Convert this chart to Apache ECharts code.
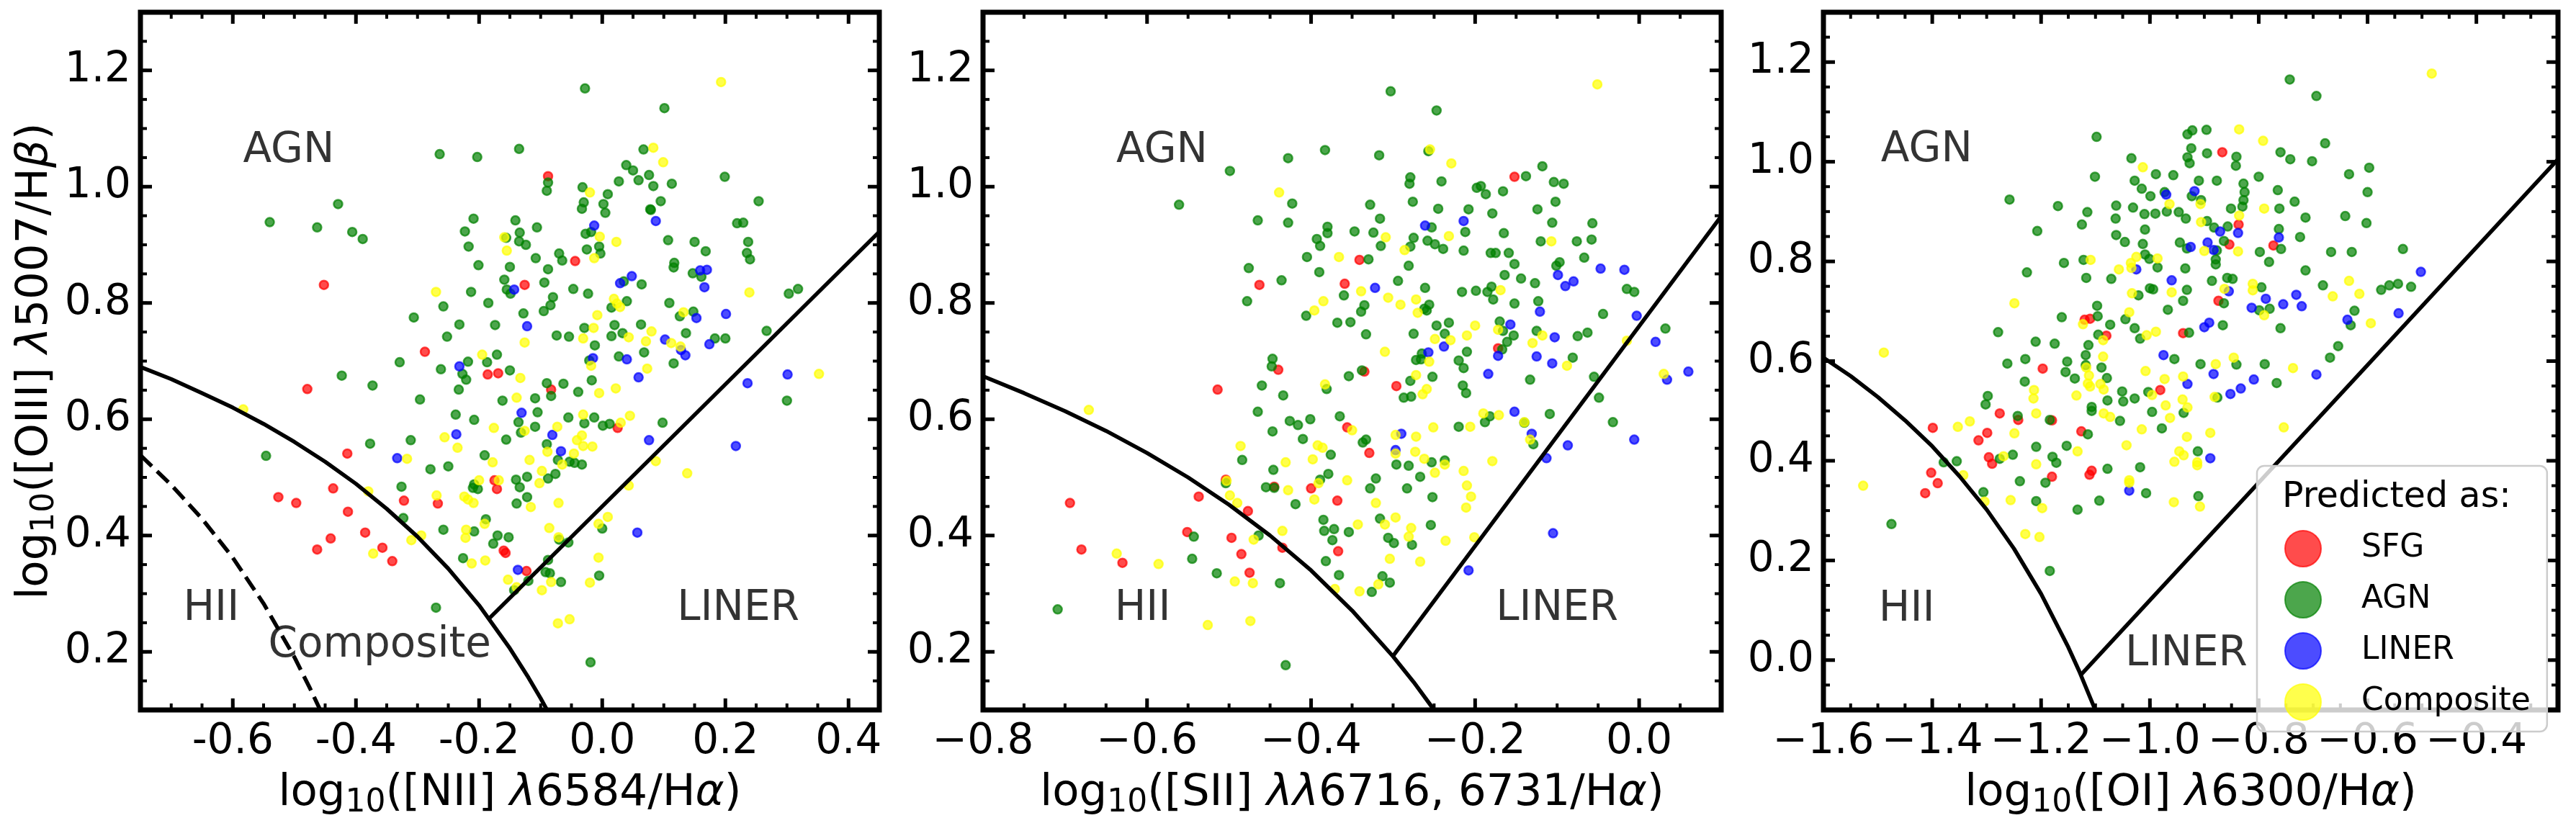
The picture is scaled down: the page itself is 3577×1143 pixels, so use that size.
<!DOCTYPE html>
<html><head><meta charset="utf-8">
<script src="https://cdn.jsdelivr.net/npm/echarts@6/dist/echarts.min.js"></script>
<style>html,body{margin:0;padding:0;background:#fff}#c{width:3577px;height:1143px}</style>
</head><body><div id="c"></div>
<script>
// ---------------- DATA ----------------
const classes = ['SFG', 'AGN', 'LINER', 'Composite'];

// Panel 1: log10([NII]/Ha) vs log10([OIII]/Hb)
const niiSFG = [[-0.088,1.018],[-0.044,0.872],[-0.126,0.831],[-0.288,0.716],[-0.186,0.677],[-0.169,0.679],[-0.083,0.651],
[0.025,0.585],[-0.175,0.495],[-0.171,0.480],[-0.322,0.460],[-0.267,0.455],[-0.160,0.374],[-0.157,0.370],[-0.123,0.339],[-0.341,0.356],
[-0.452,0.831],[-0.479,0.652],[-0.414,0.541],[-0.526,0.466],[-0.497,0.456],[-0.437,0.481],[-0.413,0.441],[-0.441,0.395],[-0.463,0.376],[-0.385,0.405],[-0.357,0.379]];
const niiAGN = [[-0.028,1.169],[0.101,1.135],[-0.264,1.056],[-0.203,1.051],[-0.135,1.065],[0.067,1.064],[0.039,1.037],[0.050,1.028],[0.076,1.020],[0.059,1.011],[0.083,1.001],[0.113,1.005],[0.027,1.009],[0.199,1.017],[-0.088,1.007],[-0.090,0.993],[-0.032,0.999],[0.009,0.987],[0.095,0.975],[0.254,0.975],[-0.030,0.973],[-0.033,0.962],[0.002,0.970],[0.005,0.955],[0.078,0.961],[0.079,0.960],[-0.209,0.945],[-0.141,0.942],[-0.106,0.930],[-0.223,0.923],[-0.134,0.921],[-0.156,0.912],[-0.135,0.906],[-0.124,0.900],[-0.217,0.897],[-0.027,0.919],[-0.018,0.922],[0.219,0.937],[0.229,0.938],[0.107,0.908],[0.150,0.905],[0.237,0.905],[-0.025,0.892],[-0.005,0.897],[-0.003,0.885],[0.168,0.889],[0.235,0.886],[0.240,0.875],[-0.070,0.885],[-0.065,0.873],[-0.108,0.877],[-0.201,0.865],[-0.150,0.862],[-0.088,0.858],[0.117,0.869],[0.116,0.861],[0.147,0.851],[0.161,0.845],[-0.159,0.840],[-0.094,0.835],[-0.155,0.823],[-0.149,0.816],[-0.047,0.824],[-0.023,0.816],[-0.213,0.819],[0.064,0.832],[0.035,0.837],[-0.080,0.810],[-0.084,0.796],[-0.095,0.786],[-0.185,0.800],[-0.258,0.794],[-0.306,0.775],[-0.128,0.782],[0.109,0.800],[0.040,0.803],[0.015,0.792],[0.303,0.816],[0.126,0.777],[0.148,0.785],[-0.232,0.763],[-0.174,0.762],[-0.252,0.742],[-0.029,0.757],[0.020,0.762],[0.063,0.763],[-0.074,0.744],[-0.054,0.742],[0.015,0.743],[0.033,0.748],[-0.012,0.727],[0.136,0.748],[0.183,0.739],[0.200,0.739],[0.267,0.752],[-0.329,0.698],[-0.262,0.686],[-0.218,0.699],[-0.187,0.698],[-0.171,0.711],[-0.150,0.684],[-0.227,0.678],[-0.221,0.668],[-0.233,0.651],[-0.296,0.634],[-0.090,0.662],[-0.063,0.661],[-0.017,0.667],[-0.039,0.647],[-0.083,0.640],[0.027,0.708],[0.068,0.715],[0.116,0.696],[-0.021,0.701],
[-0.162,0.632],[-0.109,0.636],[0.300,0.632],[-0.238,0.608],[-0.208,0.599],[-0.105,0.612],[-0.136,0.595],[-0.109,0.587],[-0.132,0.577],[-0.156,0.565],[-0.311,0.564],[-0.055,0.603],[-0.013,0.603],[-0.029,0.593],[0.001,0.589],[0.012,0.592],[0.098,0.594],[-0.090,0.557],[-0.191,0.538],[-0.250,0.519],[-0.279,0.514],[-0.072,0.530],[-0.053,0.527],[-0.045,0.525],[-0.033,0.522],[-0.076,0.506],[-0.088,0.498],[-0.122,0.501],[-0.140,0.496],[-0.134,0.483],[-0.122,0.466],[-0.139,0.455],[-0.326,0.484],[-0.208,0.488],[-0.202,0.480],[-0.210,0.482],[-0.323,0.430],[-0.189,0.428],[-0.258,0.410],[-0.208,0.407],[-0.170,0.400],[-0.152,0.397],[-0.177,0.386],[-0.070,0.393],[-0.055,0.388],[0.000,0.412],[-0.226,0.361],[-0.088,0.358],[-0.092,0.337],[-0.085,0.335],[-0.067,0.320],[-0.120,0.322],[-0.143,0.306],[-0.005,0.331],[-0.270,0.276],[-0.019,0.182],
[-0.540,0.939],[-0.463,0.930],[-0.429,0.970],[-0.406,0.922],[-0.389,0.910],[-0.423,0.675],[-0.373,0.658],[-0.546,0.537],[-0.377,0.558],[0.318,0.824]];
const niiLINER = [[-0.013,0.933],[0.087,0.941],[0.048,0.846],[0.029,0.834],[-0.143,0.823],[0.159,0.856],[0.170,0.857],[0.166,0.827],[0.201,0.781],[0.153,0.774],[-0.122,0.760],[0.102,0.737],[0.128,0.719],[0.135,0.710],[0.174,0.729],[0.040,0.703],[-0.015,0.705],[-0.232,0.691],[0.059,0.672],[0.236,0.662],[0.301,0.677],
[-0.131,0.611],[-0.237,0.574],[-0.081,0.573],[-0.067,0.545],[-0.333,0.533],[0.076,0.564],[0.217,0.554],[0.057,0.405],[-0.137,0.341]];
const niiComp = [[0.193,1.180],[0.083,1.067],[0.099,1.042],[-0.020,0.990],[-0.159,0.913],[-0.155,0.890],[-0.004,0.914],[0.023,0.905],[-0.013,0.877],[-0.270,0.819],[0.019,0.807],[0.024,0.799],[0.029,0.793],[-0.008,0.779],[-0.014,0.757],[-0.031,0.739],[0.043,0.741],[0.080,0.751],[0.071,0.734],[0.132,0.784],[0.112,0.731],[0.127,0.725],[-0.126,0.732],[-0.195,0.711],[-0.133,0.671],[-0.018,0.692],[0.073,0.687],[-0.005,0.645],[0.022,0.653],[0.239,0.818],[-0.139,0.637],
[-0.176,0.585],[-0.256,0.569],[-0.235,0.551],[-0.126,0.580],[-0.073,0.587],[-0.031,0.608],[0.045,0.606],[0.030,0.594],[-0.033,0.572],[-0.041,0.564],[-0.031,0.554],[-0.016,0.553],[-0.046,0.541],[-0.089,0.544],[-0.118,0.530],[-0.178,0.526],[-0.317,0.532],[-0.065,0.522],[-0.098,0.511],[-0.102,0.490],[-0.200,0.495],[-0.168,0.495],[-0.269,0.469],[-0.224,0.467],[-0.218,0.462],[-0.209,0.456],[-0.071,0.456],[-0.116,0.449],[0.087,0.528],[0.138,0.507],[0.043,0.486],[0.009,0.432],[-0.006,0.420],[-0.086,0.413],[-0.221,0.410],[-0.222,0.396],[-0.191,0.420],[-0.071,0.397],[-0.294,0.400],[-0.310,0.392],[-0.212,0.352],[-0.190,0.357],[-0.006,0.362],[-0.153,0.324],[-0.083,0.320],[-0.098,0.306],[-0.020,0.319],[-0.139,0.311],[-0.072,0.249],[-0.053,0.256],
[-0.583,0.617],[-0.380,0.476],[-0.372,0.369],[0.352,0.678]];

// Panel 2: log10([SII]/Ha)
const siiSFG = [[-0.152,1.017],[-0.341,0.874],[-0.463,0.831],[-0.359,0.833],[-0.172,0.722],[-0.440,0.685],[-0.335,0.682],[-0.514,0.651],[-0.296,0.657],
[-0.356,0.586],[-0.329,0.542],[-0.537,0.467],[-0.477,0.442],[-0.445,0.484],[-0.400,0.481],[-0.368,0.460],[-0.504,0.496],[-0.551,0.406],[-0.497,0.396],[-0.485,0.368],[-0.435,0.379],[-0.367,0.373],[-0.475,0.336],
[-0.694,0.456],[-0.680,0.376],[-0.630,0.353]];
const siiAGN = [[-0.303,1.164],[-0.247,1.131],[-0.383,1.063],[-0.428,1.049],[-0.499,1.027],[-0.317,1.054],[-0.257,1.061],[-0.118,1.035],[-0.138,1.018],[-0.279,1.016],[-0.280,1.005],[-0.241,1.009],[-0.198,0.998],[-0.193,1.001],[-0.187,0.987],[-0.166,0.992],[-0.104,1.008],[-0.092,1.005],[-0.561,0.969],[-0.423,0.971],[-0.328,0.969],[-0.276,0.974],[-0.245,0.962],[-0.208,0.961],[-0.179,0.954],[-0.124,0.961],[-0.102,0.974],[-0.465,0.942],[-0.428,0.938],[-0.316,0.945],[-0.106,0.938],[-0.057,0.937],[-0.380,0.931],[-0.380,0.920],[-0.347,0.923],[-0.324,0.921],[-0.253,0.930],[-0.212,0.922],[-0.165,0.920],[-0.393,0.910],[-0.389,0.898],[-0.315,0.898],[-0.275,0.912],[-0.279,0.897],[-0.258,0.907],[-0.249,0.901],[-0.239,0.893],[-0.214,0.890],[-0.181,0.886],[-0.175,0.886],[-0.159,0.886],[-0.120,0.906],[-0.076,0.906],[-0.058,0.909],[-0.405,0.879],[-0.330,0.875],[-0.281,0.864],[-0.152,0.867],[-0.097,0.870],[-0.101,0.864],[-0.067,0.878],[-0.476,0.860],[-0.390,0.853],[-0.164,0.848],[-0.144,0.842],[-0.127,0.834],[-0.436,0.839],[-0.294,0.838],[-0.261,0.826],[-0.216,0.819],[-0.199,0.821],[-0.185,0.819],[-0.180,0.828],[-0.178,0.806],[-0.123,0.803],[-0.152,0.799],[-0.015,0.824],[-0.006,0.819],[-0.478,0.803],[-0.360,0.813],[-0.335,0.796],[-0.339,0.785],[-0.406,0.778],[-0.262,0.790],[-0.256,0.797],[-0.259,0.787],[-0.368,0.766],[-0.352,0.767],[-0.247,0.761],[-0.232,0.766],[-0.170,0.768],[-0.166,0.752],[-0.153,0.744],[-0.161,0.733],[-0.125,0.752],[-0.075,0.743],[-0.063,0.749],[-0.044,0.781],[0.032,0.756],[-0.333,0.746],[-0.275,0.747],[-0.237,0.747],[-0.210,0.716],[-0.220,0.701],[-0.214,0.688],[-0.167,0.720],[-0.447,0.704],[-0.448,0.691],[-0.272,0.702],[-0.265,0.713],[-0.266,0.703],[-0.338,0.684],[-0.354,0.674],[-0.252,0.673],[-0.279,0.666],[-0.133,0.668],[-0.081,0.706],[-0.055,0.673],[-0.460,0.658],[-0.381,0.652],[-0.215,0.658],[-0.211,0.645],[-0.434,0.641],[-0.278,0.639],[-0.287,0.637],[-0.049,0.637],
[-0.465,0.613],[-0.426,0.597],[-0.416,0.590],[-0.401,0.600],[-0.365,0.605],[-0.447,0.579],[-0.410,0.566],[-0.337,0.560],[-0.333,0.565],[-0.376,0.539],[-0.484,0.530],[-0.446,0.513],[-0.379,0.506],[-0.389,0.496],[-0.504,0.490],[-0.455,0.483],[-0.445,0.482],[-0.419,0.454],[-0.321,0.498],[-0.328,0.481],[-0.296,0.522],[-0.281,0.520],[-0.267,0.501],[-0.253,0.526],[-0.237,0.529],[-0.283,0.481],[-0.252,0.466],[-0.220,0.587],[-0.188,0.595],[-0.182,0.605],[-0.109,0.609],[-0.140,0.594],[-0.129,0.557],[-0.032,0.595],[-0.385,0.427],[-0.384,0.408],[-0.372,0.411],[-0.354,0.406],[-0.374,0.392],[-0.316,0.429],[-0.306,0.396],[-0.299,0.387],[-0.277,0.384],[-0.254,0.418],[-0.543,0.398],[-0.464,0.400],[-0.545,0.360],[-0.515,0.335],[-0.438,0.318],[-0.382,0.356],[-0.366,0.332],[-0.313,0.330],[-0.304,0.319],[-0.326,0.303],[-0.431,0.177],
[-0.709,0.273]];
const siiLINER = [[-0.261,0.933],[-0.214,0.941],[-0.047,0.859],[-0.018,0.857],[-0.099,0.848],[-0.090,0.829],[-0.080,0.837],[-0.322,0.826],[-0.121,0.785],[-0.003,0.778],[-0.157,0.763],[-0.103,0.741],[0.020,0.733],[-0.238,0.725],[-0.257,0.715],[-0.172,0.709],[-0.125,0.708],[-0.106,0.696],[-0.184,0.678],[0.060,0.682],[0.034,0.668],
[-0.152,0.613],[-0.290,0.575],[-0.131,0.575],[-0.297,0.547],[-0.087,0.555],[-0.113,0.533],[-0.006,0.565],[-0.105,0.404],[-0.208,0.340]];
const siiComp = [[-0.051,1.176],[-0.255,1.064],[-0.229,1.040],[-0.439,0.990],[-0.309,0.913],[-0.232,0.915],[-0.107,0.906],[-0.286,0.891],[-0.366,0.879],[-0.169,0.822],[-0.339,0.820],[-0.385,0.803],[-0.396,0.787],[-0.306,0.809],[-0.291,0.797],[-0.272,0.806],[-0.270,0.783],[-0.200,0.761],[-0.172,0.754],[-0.210,0.744],[-0.118,0.744],[-0.130,0.731],[-0.249,0.738],[-0.230,0.736],[-0.310,0.716],[-0.256,0.699],[-0.088,0.692],[-0.015,0.735],[-0.272,0.676],[-0.383,0.660],[-0.259,0.652],[-0.264,0.643],[0.030,0.678],
[-0.190,0.610],[-0.171,0.607],[-0.206,0.587],[-0.251,0.586],[-0.140,0.595],[-0.133,0.565],[-0.350,0.581],[-0.297,0.573],[-0.272,0.570],[-0.486,0.554],[-0.392,0.555],[-0.386,0.551],[-0.297,0.541],[-0.273,0.544],[-0.262,0.532],[-0.431,0.526],[-0.398,0.531],[-0.237,0.522],[-0.249,0.508],[-0.214,0.511],[-0.179,0.528],[-0.210,0.486],[-0.205,0.467],[-0.211,0.448],[-0.356,0.495],[-0.391,0.490],[-0.428,0.478],[-0.396,0.462],[-0.321,0.456],[-0.503,0.494],[-0.499,0.469],[-0.490,0.456],[-0.343,0.419],[-0.297,0.431],[-0.310,0.419],[-0.278,0.413],[-0.281,0.398],[-0.236,0.391],[-0.201,0.397],[-0.435,0.408],[-0.470,0.393],[-0.304,0.360],[-0.267,0.355],[-0.493,0.321],[-0.471,0.318],[-0.318,0.316],[-0.341,0.304],[-0.371,0.308],[-0.586,0.351],[-0.526,0.246],[-0.474,0.253],
[-0.671,0.616],[-0.637,0.369]];

// Panel 3: log10([OI]/Ha)
const oiSFG = [[-0.867,1.019],[-0.837,0.874],[-0.854,0.834],[-0.773,0.832],[-0.874,0.721],[-1.120,0.683],[-1.110,0.685],[-1.080,0.651],[-0.939,0.656],
[-1.197,0.585],[-0.981,0.542],[-1.276,0.495],[-1.242,0.482],[-1.180,0.481],[-1.299,0.456],[-1.315,0.441],[-1.126,0.459],[-1.296,0.407],[-1.290,0.394],[-1.107,0.380],[-1.111,0.372],[-1.180,0.368],
[-1.399,0.466],[-1.402,0.376],[-1.390,0.355],[-1.413,0.335]];
const oiAGN = [[-0.743,1.165],[-0.694,1.132],[-1.098,1.050],[-0.922,1.063],[-0.931,1.055],[-0.896,1.064],[-0.924,1.027],[-0.895,1.017],[-0.931,1.009],[-0.927,0.997],[-0.841,1.010],[-0.842,0.992],[-1.034,1.007],[-0.760,1.019],[-0.742,1.005],[-0.702,1.001],[-0.678,1.037],[-1.101,0.970],[-1.028,0.962],[-0.989,0.975],[-0.957,0.973],[-0.910,0.962],[-0.877,0.962],[-0.800,0.970],[-0.828,0.956],[-0.826,0.939],[-0.828,0.923],[-0.830,0.910],[-0.634,0.975],[-0.597,0.988],[-0.600,0.939],[-0.765,0.943],[-1.015,0.946],[-0.999,0.931],[-0.973,0.939],[-0.923,0.931],[-0.906,0.923],[-1.258,0.924],[-1.169,0.911],[-1.115,0.899],[-1.062,0.912],[-1.031,0.908],[-1.010,0.895],[-0.990,0.896],[-0.969,0.900],[-0.947,0.899],[-0.934,0.886],[-1.063,0.886],[-1.125,0.874],[-0.851,0.906],[-0.762,0.906],[-0.734,0.920],[-0.714,0.888],[-0.641,0.891],[-0.602,0.877],[-1.207,0.861],[-1.009,0.864],[-0.895,0.881],[-0.882,0.868],[-0.857,0.870],[-0.763,0.865],[-0.724,0.849],[-1.062,0.853],[-1.046,0.839],[-1.013,0.835],[-0.945,0.838],[-0.932,0.826],[-0.864,0.841],[-0.877,0.822],[-0.798,0.819],[-0.759,0.825],[-0.667,0.819],[-0.629,0.819],[-0.535,0.825],[-1.009,0.814],[-1.001,0.805],[-0.879,0.804],[-0.879,0.794],[-0.781,0.799],[-1.122,0.803],[-1.158,0.797],[-1.226,0.778],[-1.117,0.767],[-1.071,0.765],[-0.986,0.788],[-0.935,0.786],[-0.714,0.782],[-0.886,0.761],[-0.858,0.767],[-0.848,0.765],[-0.795,0.748],[-0.682,0.752],[-0.575,0.743],[-0.560,0.752],[-0.544,0.755],[-0.520,0.749],[-1.021,0.732],[-1.000,0.746],[-0.994,0.744],[-0.932,0.743],[-0.939,0.721],[-0.864,0.716],[-0.967,0.703],[-0.799,0.702],[-0.780,0.705],[-0.624,0.701],[-1.097,0.711],[-1.096,0.690],[-1.162,0.688],[-1.045,0.684],[-1.073,0.673],[-1.028,0.666],[-1.279,0.658],[-1.210,0.639],[-1.175,0.635],[-1.095,0.653],[-1.113,0.632],[-1.018,0.645],[-0.928,0.657],[-0.866,0.672],[-0.760,0.666],[-0.631,0.672],[-0.654,0.630],
[-1.118,0.612],[-1.152,0.599],[-1.262,0.595],[-1.229,0.604],[-1.089,0.587],[-1.118,0.592],[-1.155,0.578],[-1.138,0.565],[-1.079,0.566],[-1.230,0.559],[-1.051,0.539],[-1.028,0.525],[-1.049,0.519],[-1.078,0.521],[-1.003,0.538],[-1.298,0.530],[-1.302,0.513],[-1.107,0.508],[-1.107,0.500],[-1.243,0.490],[-1.184,0.482],[-1.055,0.480],[-0.996,0.498],[-0.938,0.496],[-0.978,0.465],[-1.114,0.453],[-1.209,0.428],[-1.153,0.430],[-1.252,0.412],[-1.276,0.404],[-1.355,0.399],[-1.179,0.408],[-1.172,0.396],[-1.078,0.384],[-1.018,0.387],[-1.239,0.359],[-1.192,0.356],[-1.306,0.337],[-1.209,0.319],[-1.133,0.302],[-1.093,0.320],[-1.007,0.335],[-0.911,0.329],[-0.912,0.419],[-0.955,0.604],[-0.907,0.594],[-0.841,0.593],[-0.789,0.594],[-0.767,0.556],[-0.669,0.607],[-0.876,0.527],[-1.184,0.179],[-1.379,0.397],
[-1.475,0.273]];
const oiLINER = [[-0.970,0.934],[-0.918,0.941],[-0.871,0.860],[-0.838,0.857],[-0.763,0.848],[-0.894,0.838],[-0.883,0.823],[-0.925,0.829],[-1.025,0.784],[-0.960,0.762],[-0.855,0.740],[-0.787,0.725],[-0.731,0.733],[-0.813,0.707],[-0.755,0.714],[-0.721,0.710],[-0.637,0.683],[-0.543,0.696],[-0.502,0.779],[-0.891,0.677],[-0.900,0.668],
[-0.975,0.612],[-0.883,0.574],[-0.931,0.554],[-0.809,0.563],[-0.833,0.545],[-0.852,0.534],[-0.694,0.573],[-0.889,0.405],[-1.038,0.340]];
const oiComp = [[-0.836,1.065],[-0.792,1.042],[-1.013,0.989],[-0.964,0.915],[-0.907,0.915],[-0.790,0.906],[-0.836,0.892],[-0.906,0.879],[-0.838,0.820],[-0.900,0.821],[-1.109,0.803],[-1.025,0.809],[-1.035,0.797],[-1.034,0.787],[-0.986,0.806],[-1.057,0.784],[-0.811,0.755],[-0.811,0.742],[-0.634,0.761],[-0.615,0.735],[-0.664,0.730],[-0.863,0.745],[-1.033,0.736],[-0.960,0.738],[-1.249,0.716],[-1.038,0.698],[-0.790,0.692],[-0.594,0.676],[-1.123,0.674],[-1.006,0.652],[-0.989,0.659],[-1.086,0.642],[-0.482,1.177],
[-1.086,0.609],[-1.117,0.587],[-1.112,0.571],[-1.114,0.555],[-1.110,0.549],[-1.091,0.554],[-1.085,0.543],[-1.008,0.580],[-0.973,0.564],[-0.939,0.569],[-1.213,0.542],[-1.214,0.525],[-1.135,0.531],[-1.209,0.495],[-1.085,0.495],[-1.073,0.488],[-0.996,0.532],[-0.971,0.511],[-0.940,0.523],[-0.931,0.507],[-0.963,0.486],[-0.879,0.594],[-0.846,0.607],[-0.737,0.586],[-0.881,0.528],[-1.353,0.468],[-1.331,0.479],[-1.249,0.455],[-1.015,0.463],[-0.932,0.448],[-0.889,0.456],[-0.754,0.467],[-1.043,0.431],[-1.133,0.419],[-1.209,0.393],[-1.269,0.409],[-0.946,0.419],[-0.938,0.411],[-0.955,0.398],[-0.913,0.397],[-0.913,0.391],[-1.038,0.361],[-1.038,0.356],[-1.343,0.371],[-1.304,0.318],[-1.256,0.321],[-1.198,0.305],[-0.956,0.317],[-0.908,0.308],[-1.229,0.253],[-1.203,0.247],
[-1.489,0.617],[-1.527,0.350]];

// Demarcation curves (as drawn in the picture)
const niiKewley = [[-0.75,0.690],[-0.70,0.669],[-0.65,0.645],[-0.60,0.620],[-0.55,0.592],[-0.50,0.561],[-0.45,0.527],[-0.40,0.489],[-0.35,0.446],[-0.30,0.398],[-0.25,0.343],[-0.20,0.280],[-0.15,0.206],[-0.12,0.156],[-0.10,0.120],[-0.0896,0.100]];
const niiKauffmann = [[-0.75,0.538],[-0.70,0.487],[-0.65,0.429],[-0.60,0.362],[-0.55,0.283],[-0.50,0.191],[-0.475,0.138],[-0.458,0.100]];
const niiLinerLine = [[-0.183,0.258],[0.45,0.9225]];
const siiKewley = [[-0.80,0.674],[-0.75,0.645],[-0.70,0.614],[-0.65,0.580],[-0.60,0.542],[-0.55,0.500],[-0.50,0.453],[-0.45,0.400],[-0.40,0.340],[-0.35,0.271],[-0.30,0.192],[-0.275,0.148],[-0.25,0.100]];
const siiLinerLine = [[-0.30,0.193],[0.10,0.949]];
const oiKewley = [[-1.60,0.607],[-1.55,0.570],[-1.50,0.528],[-1.45,0.481],[-1.40,0.429],[-1.35,0.369],[-1.30,0.302],[-1.25,0.224],[-1.20,0.133],[-1.15,0.026],[-1.13,-0.022],[-1.10,-0.101]];
const oiLinerLine = [[-1.128,-0.031],[-0.25,1.005]];

// Tick labels
const niiTicks = [-0.6,-0.4,-0.2,0.0,0.2,0.4];
const siiTicks = [-0.8,-0.6,-0.4,-0.2,0.0];
const oiTicks = [-1.6,-1.4,-1.2,-1.0,-0.8,-0.6,-0.4];
const oiiiTicksA = [0.2,0.4,0.6,0.8,1.0,1.2];
const oiiiTicksB = [0.0,0.2,0.4,0.6,0.8,1.0,1.2];
const minorStep = 0.05;

// Region labels
const regionNames = ['AGN','HII','Composite','LINER'];

// ---------------- STYLE / LAYOUT ----------------
const FONT = "'DejaVu Sans', sans-serif";
const COLORS = {SFG:'rgba(255,0,0,0.7)', AGN:'rgba(0,128,0,0.7)', LINER:'rgba(0,0,255,0.7)', Composite:'rgba(255,255,0,0.7)'};
const RICH = {
  a:{fontSize:61, fontFamily:FONT, color:'#000', lineHeight:72},
  i:{fontSize:61, fontFamily:FONT, color:'#000', fontStyle:'italic', lineHeight:72},
  s:{fontSize:44, fontFamily:FONT, color:'#000', lineHeight:30, verticalAlign:'bottom'}
};
const fmtHyphen = v => v.toFixed(1);
const fmtMinus = v => v.toFixed(1).replace('-', '\u2212');

const panels = [
  {grid:{left:195, top:17, width:1026, height:1014}, x:[-0.75,0.45], y:[0.1,1.3], xt:niiTicks, yt:oiiiTicksA, xf:fmtHyphen, yf:fmtHyphen,
   xName:'{a|log}{s|10}{a|([NII] }{i|λ}{a|6584/H}{i|α}{a|)}',
   yName:'{a|log}{s|10}{a|([OIII] }{i|λ}{a|5007/H}{i|β}{a|)}',
   pts:[niiSFG,niiAGN,niiLINER,niiComp], lines:[[niiKewley,false],[niiKauffmann,true],[niiLinerLine,false]],
   labels:[[-0.584,1.061],[-0.681,0.273],[-0.543,0.210],[0.121,0.273]]},
  {grid:{left:1365, top:17, width:1025, height:1014}, x:[-0.8,0.1], y:[0.1,1.3], xt:siiTicks, yt:oiiiTicksA, xf:fmtMinus, yf:fmtMinus,
   xName:'{a|log}{s|10}{a|([SII] }{i|λλ}{a|6716, 6731/H}{i|α}{a|)}', yName:'',
   pts:[siiSFG,siiAGN,siiLINER,siiComp], lines:[[siiKewley,false],[siiLinerLine,false]],
   labels:[[-0.638,1.061],[-0.640,0.273],null,[-0.175,0.273]]},
  {grid:{left:2532, top:17, width:1020, height:1014}, x:[-1.6,-0.25], y:[-0.1,1.3], xt:oiTicks, yt:oiiiTicksB, xf:fmtMinus, yf:fmtMinus,
   xName:'{a|log}{s|10}{a|([OI] }{i|λ}{a|6300/H}{i|α}{a|)}', yName:'',
   pts:[oiSFG,oiAGN,oiLINER,oiComp], lines:[[oiKewley,false],[oiLinerLine,false]],
   labels:[[-1.495,1.022],[-1.499,0.101],null,[-1.046,0.011]]}
];

const SPINE_W = 7, MAJ_LEN = 16, MAJ_W = 5, MIN_LEN = 9, MIN_W = 4;

function minorValues(lo, hi) {
  const out = [];
  for (let k = Math.ceil(lo / minorStep - 1e-6); k * minorStep <= hi + 1e-6; k++) out.push(k * minorStep);
  return out;
}

// Frame + inward ticks on all four sides, placed through the axes' own scales
function frameRenderer(p) {
  const xm = minorValues(p.x[0], p.x[1]), ym = minorValues(p.y[0], p.y[1]);
  return function (params, api) {
    if (params.dataIndex !== 0) return;
    const bl = api.coord([p.x[0], p.y[0]]), tr = api.coord([p.x[1], p.y[1]]);
    const ch = [];
    const L = (x1, y1, x2, y2, w) => ch.push({type:'line', shape:{x1, y1, x2, y2}, style:{stroke:'#000', lineWidth:w}, silent:true});
    xm.forEach(v => { const px = api.coord([v, p.y[0]])[0]; L(px, bl[1], px, bl[1] - MIN_LEN, MIN_W); L(px, tr[1], px, tr[1] + MIN_LEN, MIN_W); });
    ym.forEach(v => { const py = api.coord([p.x[0], v])[1]; L(bl[0], py, bl[0] + MIN_LEN, py, MIN_W); L(tr[0], py, tr[0] - MIN_LEN, py, MIN_W); });
    p.xt.forEach(v => { const px = api.coord([v, p.y[0]])[0]; L(px, bl[1], px, bl[1] - MAJ_LEN, MAJ_W); L(px, tr[1], px, tr[1] + MAJ_LEN, MAJ_W); });
    p.yt.forEach(v => { const py = api.coord([p.x[0], v])[1]; L(bl[0], py, bl[0] + MAJ_LEN, py, MAJ_W); L(tr[0], py, tr[0] - MAJ_LEN, py, MAJ_W); });
    ch.push({type:'rect', shape:{x:bl[0], y:tr[1], width:tr[0] - bl[0], height:bl[1] - tr[1]},
      style:{fill:'none', stroke:'#000', lineWidth:SPINE_W}, silent:true});
    return {type:'group', children:ch};
  };
}

const grids = [], xAxes = [], yAxes = [], series = [];
panels.forEach((p, gi) => {
  grids.push(Object.assign({containLabel:false}, p.grid));
  xAxes.push({type:'value', gridIndex:gi, position:'bottom', min:p.x[0], max:p.x[1], splitLine:{show:false},
    axisLine:{show:false, onZero:false}, axisTick:{show:false},
    axisLabel:{show:true, customValues:p.xt, formatter:p.xf, fontSize:58, fontFamily:FONT, color:'#000', margin:16},
    name:p.xName, nameLocation:'middle', nameGap:80, nameTextStyle:{rich:RICH, fontSize:61, fontFamily:FONT, color:'#000'}});
  yAxes.push({type:'value', gridIndex:gi, position:'left', min:p.y[0], max:p.y[1], splitLine:{show:false},
    axisLine:{show:false, onZero:false}, axisTick:{show:false},
    axisLabel:{show:true, customValues:p.yt, formatter:p.yf, fontSize:58, fontFamily:FONT, color:'#000', margin:13},
    name:p.yName, nameLocation:'middle', nameGap:110, nameTextStyle:{rich:RICH, fontSize:61, fontFamily:FONT, color:'#000'}});

  p.lines.forEach(([pts, dashed]) => {
    series.push({type:'line', xAxisIndex:gi, yAxisIndex:gi, data:pts, symbol:'none', showSymbol:false, silent:true, z:3,
      lineStyle:{color:'#000', width:5.5, type: dashed ? [22, 10] : 'solid', cap:'butt', join:'round'}, animation:false});
  });
  classes.forEach((c, ci) => {
    series.push({type:'scatter', name:c, xAxisIndex:gi, yAxisIndex:gi, data:p.pts[ci], symbol:'circle', symbolSize:12,
      itemStyle:{color:COLORS[c], borderColor:COLORS[c], borderWidth:2.5, opacity:1}, z:2, animation:false});
  });
  const lab = [];
  p.labels.forEach((pos, k) => { if (pos) lab.push({value:pos, name:regionNames[k]}); });
  series.push({type:'scatter', xAxisIndex:gi, yAxisIndex:gi, data:lab, symbolSize:1, silent:true, z:4,
    itemStyle:{color:'rgba(0,0,0,0)'},
    label:{show:true, position:'right', distance:0, formatter:q => q.name, fontSize:58, fontFamily:FONT, color:'#000'}, animation:false});
  series.push({type:'custom', xAxisIndex:gi, yAxisIndex:gi, data:[[p.x[0], p.y[0]]], renderItem:frameRenderer(p),
    clip:false, silent:true, z:10, animation:false});
});

const chart = echarts.init(document.getElementById('c'), null, {renderer:'canvas'});
chart.setOption({
  backgroundColor:'#ffffff',
  animation:false,
  grid:grids, xAxis:xAxes, yAxis:yAxes, series:series,
  legend:{
    data:classes, orient:'vertical', left:3134, top:647, z:20,
    padding:[89, 23, 15, 38], itemWidth:50, itemHeight:50, itemGap:19, icon:'circle',
    backgroundColor:'rgba(255,255,255,0.8)', borderColor:'#cccccc', borderWidth:2.5, borderRadius:10,
    selectedMode:false,
    formatter: n => '{sp|}{t|' + n + '}',
    textStyle:{fontSize:44, fontFamily:FONT, color:'#000', rich:{sp:{width:51}, t:{fontSize:44, fontFamily:FONT, color:'#000'}}}
  },
  graphic:[{type:'text', x:3169, y:691, z:100, silent:true,
    style:{text:'Predicted as:', fontSize:49, fontFamily:FONT, fill:'#000', align:'left', verticalAlign:'middle'}}]
});
</script></body></html>
